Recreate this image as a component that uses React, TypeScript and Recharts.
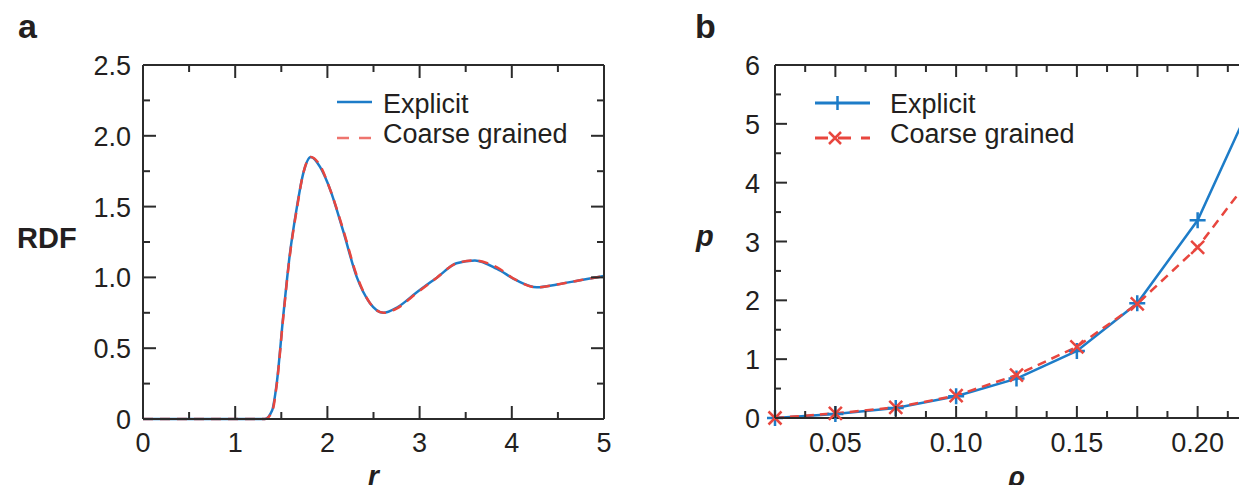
import { LineChart, Line, XAxis, YAxis } from 'recharts';

// ---- panel a: radial distribution function ----
const rA = [0, 0.5, 1.0, 1.32, 1.40, 1.45, 1.52, 1.59, 1.67, 1.74, 1.82, 1.92, 2.03, 2.17, 2.32, 2.46, 2.61, 2.75, 2.97, 3.19, 3.40, 3.60, 3.84, 4.05, 4.27, 4.49, 4.74, 5.0];
const explicitA = [0, 0, 0, 0, 0.06, 0.25, 0.72, 1.15, 1.50, 1.74, 1.85, 1.78, 1.62, 1.33, 1.00, 0.82, 0.75, 0.785, 0.895, 1.00, 1.10, 1.12, 1.06, 0.98, 0.93, 0.95, 0.98, 1.01];
const coarseA = [0, 0, 0, 0, 0.05, 0.24, 0.71, 1.14, 1.49, 1.74, 1.85, 1.79, 1.62, 1.34, 1.01, 0.82, 0.75, 0.78, 0.89, 1.00, 1.10, 1.12, 1.07, 0.98, 0.93, 0.95, 0.98, 1.01];

const xTicksA = [0, 0.5, 1, 1.5, 2, 2.5, 3, 3.5, 4, 4.5, 5];
const xLabelsA = [0, 1, 2, 3, 4, 5];
const yTicksA = [0, 0.25, 0.5, 0.75, 1, 1.25, 1.5, 1.75, 2, 2.25, 2.5];
const yLabelsA = [0, 0.5, 1, 1.5, 2, 2.5];

// ---- panel b: pressure vs density ----
const rhoB = [0.025, 0.05, 0.075, 0.1, 0.125, 0.15, 0.175, 0.2, 0.225];
const explicitB = [0, 0.07, 0.17, 0.37, 0.67, 1.14, 1.95, 3.36, 5.6];
const coarseB = [0, 0.08, 0.18, 0.38, 0.73, 1.21, 1.94, 2.9, 4.25];

const xTicksB = [0.025, 0.0375, 0.05, 0.0625, 0.075, 0.0875, 0.1, 0.1125, 0.125, 0.1375, 0.15, 0.1625, 0.175, 0.1875, 0.2, 0.2125, 0.225];
const xMajorB = [0.025, 0.05, 0.075, 0.1, 0.125, 0.15, 0.175, 0.2, 0.225];
const xLabelsB = [0.05, 0.1, 0.15, 0.2];
const yTicksB = [0, 0.5, 1, 1.5, 2, 2.5, 3, 3.5, 4, 4.5, 5, 5.5, 6];
const yLabelsB = [0, 1, 2, 3, 4, 5, 6];

const dataA = rA.map((r, i) => ({ r, explicit: explicitA[i], coarse: coarseA[i] }));
const dataB = rhoB.map((rho, i) => ({ rho, explicit: explicitB[i], coarse: coarseB[i] }));

const AX = '#2b2b2b';
const TXT = '#231f20';
const BLUE = '#1d7cc8';
const RED = '#e8463e';
const FONT = '"Liberation Sans", Arial, Helvetica, sans-serif';

const has = (arr: number[], v: number) => arr.some((a) => Math.abs(a - v) < 1e-9);

type TickCfg = {
  side: 'left' | 'right' | 'top' | 'bottom';
  major: number[];
  labels?: number[];
  fmt?: (v: number) => string;
  majorLen: number;
  minorLen: number;
  gap?: number;
};

// ticks point inward, labels outside; recharts hands us the axis-line position
const makeTick = (c: TickCfg) => (props: any) => {
  const { x, y, payload } = props;
  const v = payload.value as number;
  const len = has(c.major, v) ? c.majorLen : c.minorLen;
  let x2 = x;
  let y2 = y;
  if (c.side === 'left') x2 = x + len;
  if (c.side === 'right') x2 = x - len;
  if (c.side === 'top') y2 = y + len;
  if (c.side === 'bottom') y2 = y - len;
  const showLabel = c.labels && c.fmt && has(c.labels, v);
  return (
    <g>
      <line x1={x} y1={y} x2={x2} y2={y2} stroke={AX} strokeWidth={2} />
      {showLabel && c.side === 'left' && (
        <text x={x - (c.gap || 12)} y={y + 10} textAnchor="end" fontSize={27} fill={TXT} fontFamily={FONT}>
          {c.fmt!(v)}
        </text>
      )}
      {showLabel && c.side === 'bottom' && (
        <text x={x} y={y + (c.gap || 33)} textAnchor="middle" fontSize={27} fill={TXT} fontFamily={FONT}>
          {c.fmt!(v)}
        </text>
      )}
    </g>
  );
};

const PlusDot = (props: any) => {
  const { cx, cy } = props;
  if (cx == null || cy == null) return <g />;
  return <path d={`M${cx - 8},${cy}H${cx + 8}M${cx},${cy - 8}V${cy + 8}`} stroke={BLUE} strokeWidth={2.5} fill="none" />;
};

const CrossDot = (props: any) => {
  const { cx, cy } = props;
  if (cx == null || cy == null) return <g />;
  return <path d={`M${cx - 6.5},${cy - 6.5}L${cx + 6.5},${cy + 6.5}M${cx - 6.5},${cy + 6.5}L${cx + 6.5},${cy - 6.5}`} stroke={RED} strokeWidth={2.5} fill="none" />;
};

const axisLine = { stroke: AX, strokeWidth: 2 };
const fmtA = (v: number) => (v === 0 ? '0' : v.toFixed(1));

const PanelA = () => (
  <LineChart width={620} height={486} data={dataA} margin={{ top: 56, right: 23, bottom: 0, left: 0 }}>
    <XAxis dataKey="r" type="number" domain={[0, 5]} ticks={xTicksA} interval={0} height={75}
      axisLine={axisLine} tickLine={false} tickSize={0} tickMargin={0}
      tick={makeTick({ side: 'bottom', major: xLabelsA, labels: xLabelsA, fmt: (v) => String(v), majorLen: 13, minorLen: 7, gap: 33 })}
      label={{ value: 'r', position: 'insideBottom', offset: 9, fontSize: 28, fontWeight: 700, fontStyle: 'italic', fill: TXT, fontFamily: FONT }} />
    <XAxis xAxisId="top" dataKey="r" orientation="top" type="number" domain={[0, 5]} allowDataOverflow ticks={xTicksA} interval={0} height={1}
      axisLine={axisLine} tickLine={false} tickSize={0} tickMargin={0}
      tick={makeTick({ side: 'top', major: xLabelsA, majorLen: 13, minorLen: 7 })} />
    <YAxis type="number" domain={[0, 2.5]} ticks={yTicksA} interval={0} width={135}
      axisLine={axisLine} tickLine={false} tickSize={0} tickMargin={0}
      tick={makeTick({ side: 'left', major: yLabelsA, labels: yLabelsA, fmt: fmtA, majorLen: 13, minorLen: 7, gap: 12 })}
      label={{ value: 'RDF', position: 'insideLeft', offset: 9, dy: -4, fontSize: 29, fontWeight: 700, fill: TXT, fontFamily: FONT }} />
    <YAxis yAxisId="right" dataKey="explicit" orientation="right" type="number" domain={[0, 2.5]} allowDataOverflow ticks={yTicksA} interval={0} width={1}
      axisLine={axisLine} tickLine={false} tickSize={0} tickMargin={0}
      tick={makeTick({ side: 'right', major: yLabelsA, majorLen: 13, minorLen: 7 })} />
    <Line dataKey="explicit" type="monotone" stroke={BLUE} strokeWidth={2.5} dot={false} isAnimationActive={false} />
    <Line dataKey="coarse" type="monotone" stroke={RED} strokeWidth={2.5} strokeDasharray="10 7" dot={false} isAnimationActive={false} />
  </LineChart>
);

const PanelB = () => (
  <LineChart width={640} height={485} data={dataB} margin={{ top: 56, right: 21, bottom: 0, left: 0 }}>
    <XAxis dataKey="rho" type="number" domain={[0.025, 0.225]} ticks={xTicksB} interval={0} height={75}
      axisLine={axisLine} tickLine={false} tickSize={0} tickMargin={0}
      tick={makeTick({ side: 'bottom', major: xMajorB, labels: xLabelsB, fmt: (v) => v.toFixed(2), majorLen: 12, minorLen: 7, gap: 34 })}
      label={{ value: 'ρ', position: 'insideBottom', offset: 7, fontSize: 28, fontWeight: 700, fontStyle: 'italic', fill: TXT, fontFamily: FONT }} />
    <XAxis xAxisId="top" dataKey="rho" orientation="top" type="number" domain={[0.025, 0.225]} allowDataOverflow ticks={xTicksB} interval={0} height={1}
      axisLine={axisLine} tickLine={false} tickSize={0} tickMargin={0}
      tick={makeTick({ side: 'top', major: xMajorB, majorLen: 12, minorLen: 7 })} />
    <YAxis type="number" domain={[0, 6]} ticks={yTicksB} interval={0} width={135}
      axisLine={axisLine} tickLine={false} tickSize={0} tickMargin={0}
      tick={makeTick({ side: 'left', major: yLabelsB, labels: yLabelsB, fmt: (v) => String(v), majorLen: 12, minorLen: 6, gap: 15 })}
      label={{ value: 'p', position: 'insideLeft', offset: 56, dy: -6, fontSize: 29, fontWeight: 700, fontStyle: 'italic', fill: TXT, fontFamily: FONT }} />
    <YAxis yAxisId="right" dataKey="explicit" orientation="right" type="number" domain={[0, 6]} allowDataOverflow ticks={yTicksB} interval={0} width={1}
      axisLine={axisLine} tickLine={false} tickSize={0} tickMargin={0}
      tick={makeTick({ side: 'right', major: yLabelsB, majorLen: 12, minorLen: 6 })} />
    <Line dataKey="explicit" type="linear" stroke={BLUE} strokeWidth={2.5} dot={PlusDot} activeDot={false} isAnimationActive={false} />
    <Line dataKey="coarse" type="linear" stroke={RED} strokeWidth={2.5} strokeDasharray="9 6" dot={CrossDot} activeDot={false} isAnimationActive={false} />
  </LineChart>
);

// panel letters and legends, in page coordinates minus the 8px body margin
const Overlay = () => (
  <svg width={1239} height={485} style={{ position: 'absolute', left: 0, top: 0, pointerEvents: 'none' }} fontFamily={FONT}>
    <text x={10} y={30} fontSize={34} fontWeight={700} fill={TXT}>a</text>
    <text x={687} y={30} fontSize={34} fontWeight={700} fill={TXT}>b</text>

    <line x1={329} y1={94} x2={364} y2={94} stroke={BLUE} strokeWidth={2.5} />
    <text x={375} y={105} fontSize={27} fill={TXT}>Explicit</text>
    <line x1={329} y1={130} x2={364} y2={130} stroke={RED} strokeWidth={2.5} strokeDasharray="12 10" strokeOpacity={0.75} />
    <text x={375} y={135} fontSize={27} fill={TXT}>Coarse grained</text>

    <line x1={807} y1={95} x2={862} y2={95} stroke={BLUE} strokeWidth={3} />
    <path d="M829.5,88V102" stroke={BLUE} strokeWidth={2.5} />
    <text x={882} y={105} fontSize={27} fill={TXT}>Explicit</text>
    <line x1={807} y1={130} x2={862} y2={130} stroke={RED} strokeWidth={3} strokeDasharray="13 10" />
    <path d="M821,124L833,136M821,136L833,124" stroke={RED} strokeWidth={2.5} />
    <text x={882} y={135} fontSize={27} fill={TXT}>Coarse grained</text>
  </svg>
);

export default function App() {
  return (
    <div style={{ position: 'relative', width: 1239, height: 485, marginBottom: -8, overflow: 'hidden', background: '#fff' }}>
      <div style={{ position: 'absolute', left: 0, top: 0 }}>
        <PanelA />
      </div>
      <div style={{ position: 'absolute', left: 632, top: 0 }}>
        <PanelB />
      </div>
      <Overlay />
    </div>
  );
}
